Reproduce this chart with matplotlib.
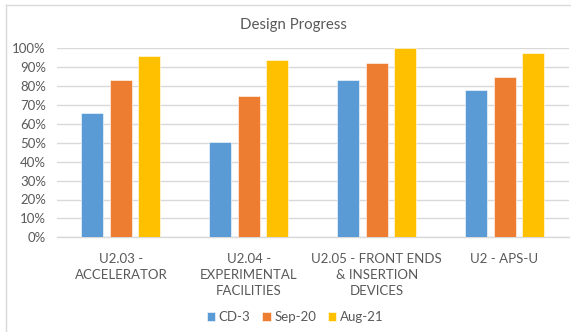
import numpy as np
import matplotlib
matplotlib.use("Agg")
import matplotlib.pyplot as plt
from matplotlib.lines import Line2D
from matplotlib.ticker import PercentFormatter

# progress by WBS element, three snapshots
categories = [
    "U2.03 -\nACCELERATOR",
    "U2.04 -\nEXPERIMENTAL\nFACILITIES",
    "U2.05 - FRONT ENDS\n& INSERTION\nDEVICES",
    "U2 - APS-U",
]
series_names = ["CD-3", "Sep-20", "Aug-21"]
cd3 = [0.66, 0.505, 0.83, 0.78]
sep20 = [0.83, 0.75, 0.92, 0.85]
aug21 = [0.96, 0.94, 1.00, 0.975]
colors = ["#5B9BD5", "#ED7D31", "#FFC000"]

plt.rcParams["font.family"] = ["Lato", "DejaVu Sans"]
text_gray = "#595959"
grid_gray = "#D9D9D9"

W, H = 571, 332
fig = plt.figure(figsize=(W / 100, H / 100), dpi=100)
ax = fig.add_axes([57 / W, 1 - 237.3 / H, (568.5 - 57) / W, (237.3 - 48.3) / H])

x = np.arange(len(categories))
bar_w = 0.172
step = 0.223
for i, (name, vals) in enumerate(zip(series_names, [cd3, sep20, aug21])):
    ax.bar(x + (i - 1) * step, vals, width=bar_w, color=colors[i],
           edgecolor="white", linewidth=0.4, label=name, zorder=3)

ax.set_xlim(-0.5, len(categories) - 0.5)
ax.set_ylim(0, 1)
ax.set_yticks(np.arange(0, 1.01, 0.1))
ax.yaxis.set_major_formatter(PercentFormatter(1.0, decimals=0))
ax.grid(axis="y", color=grid_gray, linewidth=1, zorder=0)
for side in ["top", "right", "left"]:
    ax.spines[side].set_visible(False)
ax.spines["bottom"].set_color(grid_gray)
ax.spines["bottom"].set_linewidth(1)

ax.set_xticks(x)
ax.set_xticklabels(categories, linespacing=1.4, va="top")
ax.tick_params(axis="x", length=0, pad=11, labelsize=9.5, colors=text_gray)
ax.tick_params(axis="y", length=0, pad=8, labelsize=9.5, colors=text_gray)

fig.text(293 / W, 1 - 25 / H, "Design Progress", ha="center", va="center",
         fontsize=10.8, color=text_gray)

fig.legend(loc="center", bbox_to_anchor=(295 / W, 1 - 317 / H), ncol=3,
           frameon=False, fontsize=9.5, labelcolor=text_gray,
           handlelength=0.65, handleheight=0.65, handletextpad=0.25,
           columnspacing=0.9, borderaxespad=0)

# chart area border (top and left edges)
fig.add_artist(Line2D([6 / W, 6 / W], [0, 1 - 5 / H], transform=fig.transFigure,
                      color=grid_gray, linewidth=1))
fig.add_artist(Line2D([6 / W, 1], [1 - 5 / H, 1 - 5 / H], transform=fig.transFigure,
                      color=grid_gray, linewidth=1))

fig.savefig("out.png", dpi=100, facecolor="white")
